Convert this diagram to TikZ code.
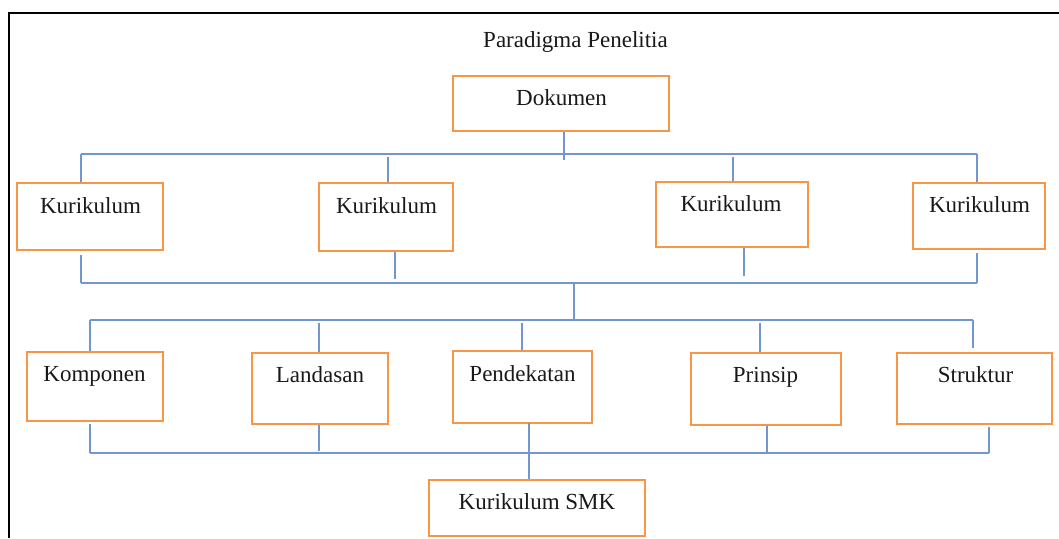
\documentclass[tikz,border=0pt]{standalone}
\usepackage{fontspec}
\setmainfont{Liberation Serif}
\definecolor{boxorange}{RGB}{247,150,70}
\definecolor{linkblue}{RGB}{114,151,208}
\begin{document}
\begin{tikzpicture}[x=1pt,y=-1pt,
  obox/.style={draw=boxorange,line width=2pt,inner sep=0pt,fill=none},
  lbl/.style={font=\fontsize{23}{27}\selectfont,inner sep=0pt,anchor=base,text=black!90},
  bus/.style={draw=linkblue,line width=1.3pt},
  frame/.style={draw=black,line width=2pt}]
\useasboundingbox (0,0) rectangle (1059,538);
% frame
\coordinate (fA) at (9,538);
\coordinate (fB) at (9,13);
\coordinate (fC) at (1059,13);
\draw[frame] (fA) -- (fB) -- (fC);
% title
\node[lbl] (title) at (575.5,47) {Paradigma Penelitia};
% boxes
\node[obox,minimum width=216,minimum height=55] (dok) at (561,103.5) {};
\node[obox,minimum width=146,minimum height=67] (k1) at (90,216.5) {};
\node[obox,minimum width=134,minimum height=68] (k2) at (386,217) {};
\node[obox,minimum width=152,minimum height=65] (k3) at (732,214.5) {};
\node[obox,minimum width=132,minimum height=66] (k4) at (979,216) {};
\node[obox,minimum width=136,minimum height=69] (komp) at (95,386.5) {};
\node[obox,minimum width=136,minimum height=71] (land) at (320,388.5) {};
\node[obox,minimum width=139,minimum height=72] (pend) at (522.5,387) {};
\node[obox,minimum width=150,minimum height=72] (prin) at (766,389) {};
\node[obox,minimum width=155,minimum height=71] (strk) at (974.5,388.5) {};
\node[obox,minimum width=216,minimum height=56] (smk) at (537,508) {};
% labels
\node[lbl] (dokT) at (561.5,105) {Dokumen};
\node[lbl] (k1T) at (90.5,213) {Kurikulum};
\node[lbl] (k2T) at (386.5,213) {Kurikulum};
\node[lbl] (k3T) at (731,211) {Kurikulum};
\node[lbl] (k4T) at (979.5,212) {Kurikulum};
\node[lbl] (kompT) at (94.5,381) {Komponen};
\node[lbl] (landT) at (320,382) {Landasan};
\node[lbl] (pendT) at (522.5,381) {Pendekatan};
\node[lbl] (prinT) at (765.5,382) {Prinsip};
\node[lbl] (strkT) at (975.5,382) {Struktur};
\node[lbl] (smkT) at (537,509) {Kurikulum SMK};
% bus coordinates
\coordinate (b1L) at (81,154);
\coordinate (b1R) at (977,154);
\coordinate (d1) at (564,160);
\coordinate (t2) at (388,157);
\coordinate (t3) at (733,157);
\coordinate (u1) at (81,255);
\coordinate (u2) at (395,279);
\coordinate (u3) at (744,276);
\coordinate (u4) at (977,253);
\coordinate (b2L) at (81,283);
\coordinate (b2R) at (977,283);
\coordinate (b2M) at (574,283);
\coordinate (b3L) at (90,320);
\coordinate (b3R) at (973,320);
\coordinate (b3M) at (574,320);
\coordinate (v2) at (319,323);
\coordinate (v3) at (522,323);
\coordinate (v4) at (760,323);
\coordinate (v5) at (973,348);
\coordinate (b4L) at (90,453);
\coordinate (b4R) at (989,453);
\coordinate (w1) at (90,424);
\coordinate (w2) at (319,451);
\coordinate (w3) at (529,423);
\coordinate (w4) at (767,453);
\coordinate (w5) at (989,427);
% level 1
\draw[bus] (b1L) -- (b1R);
\draw[bus] (dok.south -| d1) -- (d1);
\draw[bus] (b1L) -- (b1L |- k1.north);
\draw[bus] (t2) -- (t2 |- k2.north);
\draw[bus] (t3) -- (t3 |- k3.north);
\draw[bus] (b1R) -- (b1R |- k4.north);
% level 2
\draw[bus] (u1) -- (b2L);
\draw[bus] (k2.south -| u2) -- (u2);
\draw[bus] (k3.south -| u3) -- (u3);
\draw[bus] (u4) -- (b2R);
\draw[bus] (b2L) -- (b2R);
\draw[bus] (b2M) -- (b3M);
% level 3
\draw[bus] (b3L) -- (b3R);
\draw[bus] (b3L) -- (b3L |- komp.north);
\draw[bus] (v2) -- (v2 |- land.north);
\draw[bus] (v3) -- (v3 |- pend.north);
\draw[bus] (v4) -- (v4 |- prin.north);
\draw[bus] (b3R) -- (v5);
% level 4
\draw[bus] (b4L) -- (b4R);
\draw[bus] (w1) -- (b4L);
\draw[bus] (land.south -| w2) -- (w2);
\draw[bus] (w3) -- (w3 |- smk.north);
\draw[bus] (prin.south -| w4) -- (w4);
\draw[bus] (w5) -- (b4R);
\end{tikzpicture}
\end{document}
